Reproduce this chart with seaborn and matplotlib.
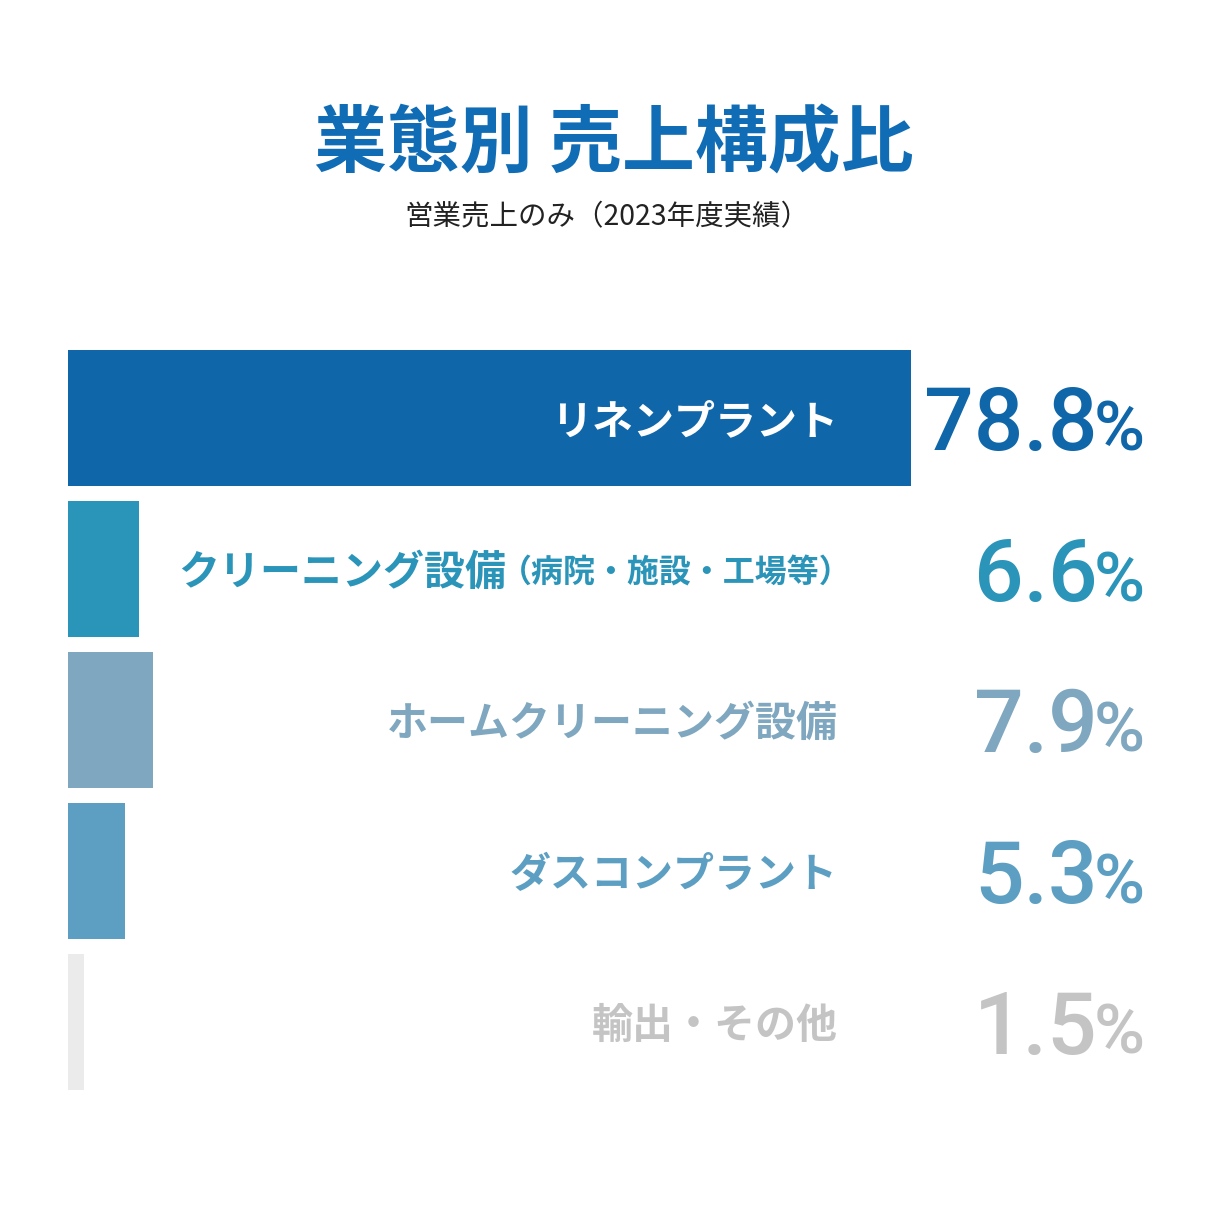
import matplotlib
matplotlib.use("Agg")
import matplotlib.pyplot as plt
import matplotlib.transforms as mtransforms
import seaborn as sns
import pandas as pd

# ---- data ----
categories = ["リネンプラント", "クリーニング設備", "ホームクリーニング設備", "ダスコンプラント", "輸出・その他"]
label_notes = ["", "（病院・施設・工場等）", "", "", ""]
values = [78.8, 6.6, 7.9, 5.3, 1.5]
value_labels = ["78.8", "6.6", "7.9", "5.3", "1.5"]
bar_colors = ["#0F66A8", "#2A94B9", "#7FA7BF", "#5C9FC2", "#EBEBEB"]
text_colors = ["#FFFFFF", "#2A94B9", "#7FA7BF", "#5C9FC2", "#C4C4C4"]
pct_colors = ["#0F66A8", "#2A94B9", "#7FA7BF", "#5C9FC2", "#C4C4C4"]
title = "業態別 売上構成比"
subtitle = "営業売上のみ（2023年度実績）"

sns.set_theme(style="white")
plt.rcParams["font.family"] = ["Noto Sans CJK JP", "DejaVu Sans"]

W = H = 1220
fig = plt.figure(figsize=(W / 100, H / 100), dpi=100)
fig.patch.set_facecolor("white")

px_per_unit = 843 / 78.8
ax_left = 68
ax_top = 342.5
ax_h = 755
ax = fig.add_axes([ax_left / W, 1 - (ax_top + ax_h) / H, (W - ax_left) / W, ax_h / H])

df = pd.DataFrame({"cat": categories, "val": values})
sns.barplot(data=df, x="val", y="cat", hue="cat", palette=bar_colors, legend=False,
            orient="h", width=0.9, saturation=1, ax=ax, linewidth=0)
ax.set_xlim(0, (W - ax_left) / px_per_unit)
ax.set_ylim(len(categories) - 0.5, -0.5)
ax.axis("off")

trans = mtransforms.blended_transform_factory(fig.transFigure, ax.transData)
renderer = fig.canvas.get_renderer()
inv = fig.transFigure.inverted()

dy = 4 / 151
for i, (cat, note) in enumerate(zip(categories, label_notes)):
    xr = 838 / W
    if note:
        t = ax.text(852 / W, i + dy, note, transform=trans, ha="right", va="center",
                    fontsize=23, fontweight="bold", color=text_colors[i])
        bb = t.get_window_extent(renderer)
        xr = inv.transform((bb.x0 + 6, 0))[0]
    ax.text(xr, i + dy, cat, transform=trans, ha="right", va="center",
            fontsize=29.5, fontweight="bold", color=text_colors[i])

# percentages
pct_right = 1145 / W
for i, v in enumerate(value_labels):
    base = i + 32 / 151
    p = ax.text(pct_right, base, "%", transform=trans, ha="right", va="baseline",
                fontsize=50, fontweight="medium", family="Roboto", color=pct_colors[i])
    bb = p.get_window_extent(renderer)
    xr = inv.transform((bb.x0 + 4, 0))[0]
    ax.text(xr, base, v, transform=trans, ha="right", va="baseline",
            fontsize=63, fontweight="medium", family="Roboto", color=pct_colors[i])

fig.text(614 / W, 1 - 145 / H, title, ha="center", va="center",
         fontsize=52.5, fontweight="bold", color="#0F6CB5")
fig.text(607 / W, 1 - 217 / H, subtitle, ha="center", va="center",
         fontsize=20.5, color="#222222")

fig.savefig("out.png", dpi=100, facecolor="white")
